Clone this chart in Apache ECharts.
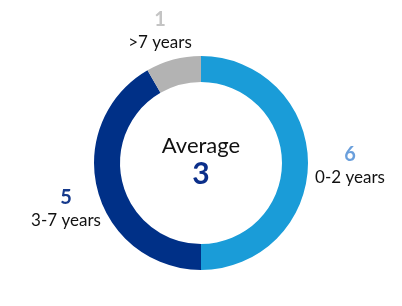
<!DOCTYPE html>
<html><head><meta charset="utf-8">
<script src="https://cdn.jsdelivr.net/npm/echarts@6/dist/echarts.min.js"></script>
<style>html,body{margin:0;padding:0;background:#fff}#c{width:402px;height:306px}</style>
</head><body><div id="c"></div>
<script>
const categories = ['0-2 years', '3-7 years', '>7 years'];
const counts = [6, 5, 1];
const averageLabel = 'Average';
const averageValue = 3;

const sliceColors = ['#1a9cd8', '#003087', '#b3b3b3'];
const numberColors = ['#6a9fdc', '#163a8c', '#c4c4c4'];
const labelPos = [[350, 166], [66, 209], [160, 31]];
const FONT = 'Lato';

const chart = echarts.init(document.getElementById('c'), null, {renderer: 'canvas'});
chart.setOption({
  animation: false,
  graphic: [{
    type: 'text', x: 201, y: 161,
    style: {
      text: '{a|' + averageLabel + '}\n{b|' + averageValue + '}',
      align: 'center', verticalAlign: 'middle', fontFamily: FONT,
      rich: {
        a: {fontSize: 22, fill: '#111', fontFamily: FONT, lineHeight: 27, align: 'center'},
        b: {fontSize: 30, fontWeight: 'bold', fill: '#0b2f8a', fontFamily: FONT, lineHeight: 30, align: 'center'}
      }
    }
  }],
  series: [{
    type: 'pie',
    center: [201, 163],
    radius: [81, 107],
    startAngle: 90,
    clockwise: true,
    silent: true,
    label: {
      show: true,
      position: 'outside',
      overflow: 'none',
      fontFamily: FONT,
      formatter: p => '{v' + p.dataIndex + '|' + p.value + '}\n{n|' + p.name + '}',
      rich: {
        v0: {fontSize: 20, fontWeight: 'bold', color: numberColors[0], lineHeight: 23, align: 'center', fontFamily: FONT},
        v1: {fontSize: 20, fontWeight: 'bold', color: numberColors[1], lineHeight: 23, align: 'center', fontFamily: FONT},
        v2: {fontSize: 20, fontWeight: 'bold', color: numberColors[2], lineHeight: 23, align: 'center', fontFamily: FONT},
        n: {fontSize: 17, color: '#111', lineHeight: 23, align: 'center', fontFamily: FONT}
      }
    },
    labelLine: {show: false},
    labelLayout: p => ({x: labelPos[p.dataIndex][0], y: labelPos[p.dataIndex][1], align: 'center', verticalAlign: 'middle'}),
    data: categories.map((c, i) => ({name: c, value: counts[i], itemStyle: {color: sliceColors[i]}}))
  }]
});
</script></body></html>
